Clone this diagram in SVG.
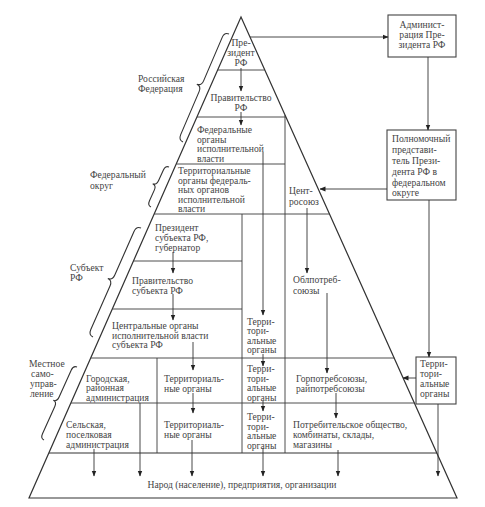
<svg xmlns="http://www.w3.org/2000/svg" width="485" height="507" viewBox="0 0 485 507">
<style>
text{font-family:"Liberation Serif","DejaVu Serif",serif;font-size:9.6px;fill:#444}
.c{text-anchor:middle}
.ln{stroke:#3a3a3a;stroke-width:0.9;fill:none}
.out{stroke:#333;stroke-width:1.2;fill:none}
.box{stroke:#444;stroke-width:1.1;fill:#fff}
.br{stroke:#333;stroke-width:1.1;fill:none}
.ar{stroke:#333;stroke-width:0.9;fill:none;marker-end:url(#ah)}
</style>
<defs>
<marker id="ah" markerWidth="6" markerHeight="6" refX="5.5" refY="3" orient="auto" markerUnits="userSpaceOnUse"><path d="M0,0.6 L6,3 L0,5.4 z" fill="#222"/></marker>
</defs>
<rect width="485" height="507" fill="#fff"/>
<g id="pyramid">
<polygon class="out" points="241,17 29,498 457,498"/>
<line class="out" x1="49" y1="453" x2="437" y2="453"/>
<g id="grid">
<line class="ln" x1="217.7" y1="70" x2="264.8" y2="70"/>
<line class="ln" x1="197" y1="117" x2="286" y2="117"/>
<line class="ln" x1="176.3" y1="164" x2="285" y2="164"/>
<line class="ln" x1="285" y1="115" x2="285" y2="453"/>
<line class="ln" x1="154.2" y1="214" x2="329.6" y2="214"/>
<line class="ln" x1="133.5" y1="261" x2="242" y2="261"/>
<line class="ln" x1="112.4" y1="309" x2="242" y2="309"/>
<line class="ln" x1="90.8" y1="358" x2="394.3" y2="358"/>
<line class="ln" x1="71" y1="403" x2="414.5" y2="403"/>
<line class="ln" x1="242" y1="214" x2="242" y2="453"/>
<line class="ln" x1="157" y1="358" x2="157" y2="453"/>
</g>
</g>
<g id="braces">
<path class="br" d="M229,34 Q224.4,32.1 222.1,37.6 L203.7,80.6 Q201.4,86.1 196.8,84.2 Q201.4,86.1 199.1,91.6 L180.7,134.6 Q178.4,140.1 183,142"/>
<path class="br" d="M169,167 Q165.4,165.4 163.4,170 L158.5,180.8 Q156.4,185.4 152.7,183.7 Q156.4,185.4 154.4,189.9 L149.5,200.8 Q147.4,205.4 151,207"/>
<path class="br" d="M141,228 Q136.4,226 134,231.5 L114.8,275 Q112.4,280.5 107.8,278.5 Q112.4,280.5 110,286 L90.8,329.5 Q88.4,335 93,337"/>
<path class="br" d="M77,367 Q73.4,365.4 71.3,370 L59,397.3 Q56.9,401.9 53.3,400.3 Q56.9,401.9 54.8,406.5 L42.5,433.8 Q40.4,438.4 44,440"/>
</g>
<g id="level-labels">
<g id="lbl-rf"><text x="138" y="82">Российская</text><text x="138" y="92">Федерация</text></g>
<g id="lbl-fo"><text x="90" y="178">Федеральный</text><text x="90" y="189">округ</text></g>
<g id="lbl-subj"><text x="70" y="271">Субъект</text><text x="70" y="281">РФ</text></g>
<g id="lbl-mest"><text x="29" y="367">Местное</text><text x="31" y="377">само-</text><text x="30" y="387">управ-</text><text x="30" y="397">ление</text></g>
</g>
<g id="n-president"><text class="c" x="241" y="46">Пре-</text><text class="c" x="241" y="56">зидент</text><text class="c" x="241" y="66">РФ</text></g>
<g id="n-govrf"><text class="c" x="241" y="100.5">Правительство</text><text class="c" x="241" y="110.5">РФ</text></g>
<g id="n-fed-organs"><text x="197" y="132.5">Федеральные</text><text x="197" y="142.5">органы</text><text x="197" y="152">исполнительной</text><text x="197" y="161.5">власти</text></g>
<g id="n-terr-fed"><text x="178" y="174">Территориальные</text><text x="178" y="183.5">органы федераль-</text><text x="178" y="193">ных органов</text><text x="178" y="202.5">исполнительной</text><text x="178" y="212">власти</text></g>
<g id="n-centrosoyuz"><text x="289" y="194">Цент-</text><text x="289" y="205">росоюз</text></g>
<g id="n-admin"><rect class="box" x="388" y="15" width="68" height="42"/><text class="c" x="422" y="27.5">Админист-</text><text class="c" x="422" y="37.5">рация Пре-</text><text class="c" x="422" y="47.5">зидента РФ</text></g>
<g id="n-polpred"><rect class="box" x="387" y="130" width="69" height="70"/><text x="392" y="142">Полномочный</text><text x="392" y="153">представи-</text><text x="392" y="164">тель Прези-</text><text x="392" y="175">дента РФ в</text><text x="392" y="185.5">федеральном</text><text x="392" y="196">округе</text></g>
<g id="n-pres-subj"><text x="155" y="231">Президент</text><text x="155" y="241">субъекта РФ,</text><text x="155" y="251">губернатор</text></g>
<g id="n-gov-subj"><text x="132" y="284">Правительство</text><text x="132" y="294">субъекта РФ</text></g>
<g id="n-central-subj"><text x="112" y="329">Центральные органы</text><text x="112" y="338.5">исполнительной власти</text><text x="112" y="348">субъекта РФ</text></g>
<g id="n-oblpotreb"><text x="293" y="283">Облпотреб-</text><text x="293" y="293.5">союзы</text></g>
<g id="n-terr-col1"><text x="247" y="324.5">Терри-</text><text x="247" y="334">тори-</text><text x="247" y="343.5">альные</text><text x="247" y="353">органы</text></g>
<g id="n-terr-col2"><text x="247" y="372">Терри-</text><text x="247" y="381.5">тори-</text><text x="247" y="391">альные</text><text x="247" y="400.5">органы</text></g>
<g id="n-terr-col3"><text x="247" y="420">Терри-</text><text x="247" y="429.5">тори-</text><text x="247" y="439">альные</text><text x="247" y="448.5">органы</text></g>
<g id="n-gorod"><text x="86" y="381.5">Городская,</text><text x="86" y="391">районная</text><text x="86" y="400.5">администрация</text></g>
<g id="n-terr-loc1"><text x="164" y="381.5">Территориаль-</text><text x="164" y="391.5">ные органы</text></g>
<g id="n-gorpotreb"><text x="296" y="381.5">Горпотребсоюзы,</text><text x="296" y="391.5">райпотребсоюзы</text></g>
<g id="n-selsk"><text x="66" y="428">Сельская,</text><text x="66" y="438">поселковая</text><text x="66" y="448">администрация</text></g>
<g id="n-terr-loc2"><text x="164" y="428">Территориаль-</text><text x="164" y="438">ные органы</text></g>
<g id="n-potreb"><text x="293" y="428">Потребительское общество,</text><text x="293" y="438">комбинаты, склады,</text><text x="293" y="448">магазины</text></g>
<g id="n-terr-right"><rect class="box" x="416" y="357" width="40" height="47"/><text x="420" y="367">Терри-</text><text x="420" y="376.5">тори-</text><text x="420" y="386.5">альные</text><text x="420" y="396.5">органы</text></g>
<g id="n-narod"><text class="c" x="242" y="488">Народ (население), предприятия, организации</text></g>
<g id="connectors">
<line class="ar" x1="250" y1="37" x2="388" y2="37"/>
<line class="ar" x1="428" y1="57" x2="428" y2="130"/>
<line class="ar" x1="387" y1="189" x2="320" y2="189"/>
<line class="ar" x1="429" y1="200" x2="429" y2="357"/>
<line class="ar" x1="416" y1="378" x2="403" y2="378"/>
<line class="ar" x1="438" y1="404" x2="438" y2="476"/>
<line class="ar" x1="241" y1="68" x2="241" y2="91"/>
<line class="ar" x1="241" y1="112" x2="241" y2="125"/>
<line class="ar" x1="263" y1="152" x2="263" y2="315"/>
<line class="ar" x1="307" y1="208" x2="307" y2="273"/>
<line class="ar" x1="327" y1="293" x2="327" y2="373"/>
<line class="ar" x1="336" y1="393" x2="336" y2="418"/>
<line class="ar" x1="338" y1="450" x2="338" y2="476"/>
<line class="ar" x1="263" y1="354" x2="263" y2="366"/>
<line class="ar" x1="263" y1="401" x2="263" y2="411"/>
<line class="ar" x1="263" y1="448" x2="263" y2="476"/>
<line class="ar" x1="173" y1="252" x2="173" y2="273"/>
<line class="ar" x1="173" y1="294" x2="173" y2="320"/>
<line class="ar" x1="193" y1="342" x2="193" y2="370"/>
<line class="ar" x1="193" y1="393" x2="193" y2="413"/>
<line class="ar" x1="192" y1="440" x2="192" y2="476"/>
<line class="ar" x1="140" y1="403" x2="140" y2="476"/>
<line class="ar" x1="94" y1="449" x2="94" y2="476"/>
</g>
</svg>
